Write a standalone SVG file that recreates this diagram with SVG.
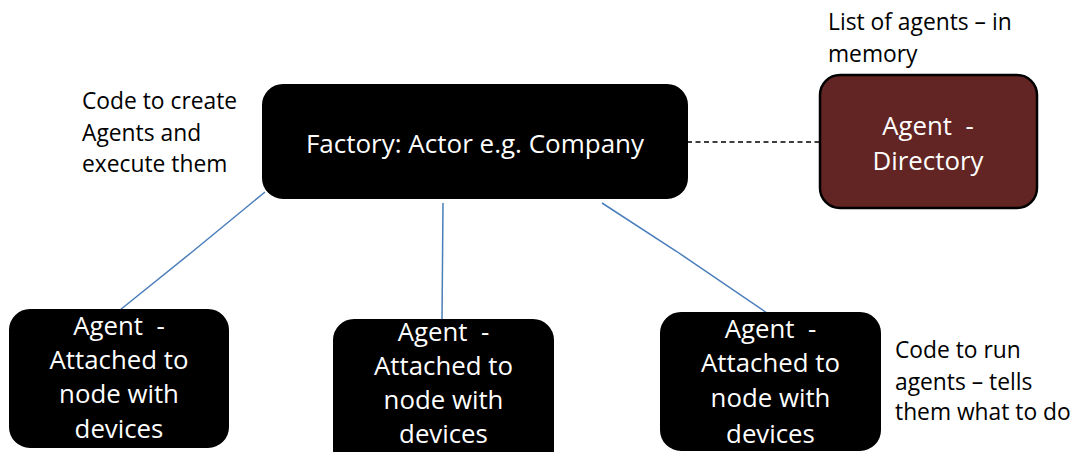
<svg xmlns="http://www.w3.org/2000/svg" width="1078" height="452" viewBox="0 0 1078 452">
<style>
.box{fill:#000;stroke:#000;stroke-width:2}
.dir{fill:#632523;stroke:#000;stroke-width:2.5}
.wt{font-family:"Open Sans","Noto Sans",sans-serif;fill:#fff;text-anchor:middle;white-space:pre}
.bt{font-family:"Open Sans","Noto Sans",sans-serif;fill:#000;font-size:22.8px}
.link{stroke:#4a7ebb;stroke-width:1.5;fill:none}
.dash{stroke:#000;stroke-width:1.5;stroke-dasharray:5 3.5;fill:none}
</style>
<rect width="1078" height="452" fill="#fff"/>
<g id="connectors">
<polyline class="link" points="265,192 192,252 120,310"/>
<line class="link" x1="443" y1="203" x2="442" y2="320"/>
<polyline class="link" points="602,203 676,251 770,315"/>
<line class="dash" x1="687" y1="142" x2="820" y2="142"/>
</g>
<g id="factory">
<rect class="box" x="263" y="85" width="424" height="113" rx="20"/>
<text class="wt" x="475" y="153" font-size="26">Factory: Actor e.g. Company</text>
</g>
<g id="directory">
<rect class="dir" x="820" y="75" width="217" height="133" rx="20"/>
<text class="wt" x="928" y="135" font-size="25.8">Agent  -</text>
<text class="wt" x="928" y="170" font-size="25.8">Directory</text>
</g>
<g id="agent1">
<rect class="box" x="10" y="310" width="218" height="137" rx="20"/>
<text class="wt" x="119" y="335" font-size="25.8">Agent  -</text>
<text class="wt" x="119" y="369" font-size="25.8">Attached to</text>
<text class="wt" x="119" y="403" font-size="25.8">node with</text>
<text class="wt" x="119" y="438" font-size="25.8">devices</text>
</g>
<g id="agent2">
<rect class="box" x="334" y="320" width="219" height="150" rx="20"/>
<text class="wt" x="443.5" y="341" font-size="25.8">Agent  -</text>
<text class="wt" x="443.5" y="375" font-size="25.8">Attached to</text>
<text class="wt" x="443.5" y="409" font-size="25.8">node with</text>
<text class="wt" x="443.5" y="443" font-size="25.8">devices</text>
</g>
<g id="agent3">
<rect class="box" x="661" y="313" width="219" height="137" rx="20"/>
<text class="wt" x="770.5" y="338" font-size="25.8">Agent  -</text>
<text class="wt" x="770.5" y="372" font-size="25.8">Attached to</text>
<text class="wt" x="770.5" y="407" font-size="25.8">node with</text>
<text class="wt" x="770.5" y="443" font-size="25.8">devices</text>
</g>
<g id="note-factory">
<text class="bt" x="82" y="109">Code to create</text>
<text class="bt" x="82" y="141">Agents and</text>
<text class="bt" x="82" y="172">execute them</text>
</g>
<g id="note-directory">
<text class="bt" x="828" y="30">List of agents – in</text>
<text class="bt" x="828" y="62">memory</text>
</g>
<g id="note-agents">
<text class="bt" x="895" y="358">Code to run</text>
<text class="bt" x="895" y="390">agents – tells</text>
<text class="bt" x="895" y="420">them what to do</text>
</g>
</svg>
